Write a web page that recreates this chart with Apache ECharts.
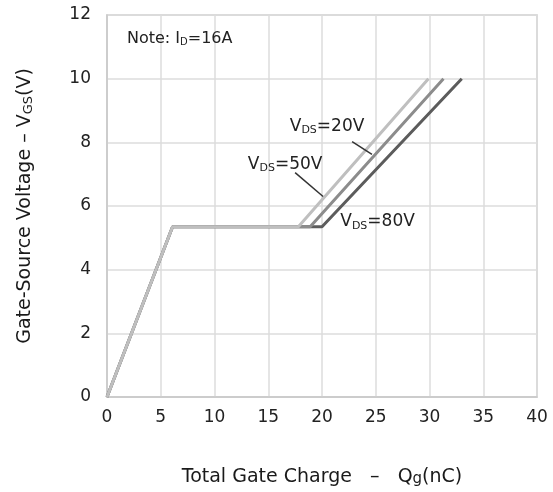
<!DOCTYPE html>
<html><head><meta charset="utf-8">
<script src="https://cdn.jsdelivr.net/npm/echarts@6/dist/echarts.min.js"></script>
<style>html,body{margin:0;padding:0;background:#fff}#c{width:553px;height:492px}</style>
</head><body><div id="c"></div>
<script>
var xTicks = [0,5,10,15,20,25,30,35,40];
var yTicks = [0,2,4,6,8,10,12];
var q20 = [0, 6.1, 17.8, 29.9];
var v20 = [0, 5.35, 5.35, 10];
var q50 = [0, 6.1, 18.9, 31.3];
var v50 = [0, 5.35, 5.35, 10];
var q80 = [0, 6.1, 20.0, 33.0];
var v80 = [0, 5.35, 5.35, 10];
var seriesNames = ['VDS=80V','VDS=50V','VDS=20V'];
var seriesColors = ['#5c5c5c','#8c8c8c','#bfbfbf'];

function pairs(xs, ys){ return xs.map(function(x,i){return [x, ys[i]];}); }
var font = '"DejaVu Sans", sans-serif';
var chart = echarts.init(document.getElementById('c'));
var sdata = [pairs(q80,v80), pairs(q50,v50), pairs(q20,v20)];
chart.setOption({
  animation:false,
  grid:{left:107, top:15, right:16, bottom:94, show:true, borderColor:'#c8c8c8', borderWidth:1.5},
  xAxis:{type:'value', min:0, max:40, interval:5,
    name:'Total Gate Charge   \u2013   Q{s|g}(nC)', nameLocation:'middle', nameGap:70,
    nameTextStyle:{fontFamily:font, fontSize:19, color:'#1a1a1a', rich:{s:{fontSize:15, fontFamily:font, color:'#1a1a1a', padding:[5,0,0,0]}}},
    axisLine:{show:true, lineStyle:{color:'#c8c8c8', width:1.5}}, axisTick:{show:false},
    axisLabel:{fontFamily:font, fontSize:17, color:'#222', margin:12},
    splitLine:{show:true, lineStyle:{color:'#dcdcdc', width:1.5}}},
  yAxis:{type:'value', min:0, max:12, interval:2,
    name:'Gate-Source Voltage \u2013 V{s|GS}(V)', nameLocation:'middle', nameGap:72,
    nameTextStyle:{fontFamily:font, fontSize:19, color:'#1a1a1a', rich:{s:{fontSize:13, fontFamily:font, color:'#1a1a1a', padding:[6,0,0,0]}}},
    axisLine:{show:true, lineStyle:{color:'#c8c8c8', width:1.5}}, axisTick:{show:false},
    axisLabel:{fontFamily:font, fontSize:17, color:'#222', margin:16},
    splitLine:{show:true, lineStyle:{color:'#dcdcdc', width:1.5}}},
  series: sdata.map(function(d,i){
    return {type:'line', name:seriesNames[i], data:d, symbol:'none',
      lineStyle:{color:seriesColors[i], width:3}, z:2+i};
  })
});

function px(x,y){ return chart.convertToPixel({gridIndex:0},[x,y]); }
function label(x,y,sub,rest){
  var p = px(x,y);
  return {type:'text', x:p[0], y:p[1], z:10, style:{
    text:'{a|V}{s|DS}{a|'+rest+'}', verticalAlign:'middle',
    rich:{a:{fontFamily:font, fontSize:17, fill:'#222', color:'#222'},
          s:{fontFamily:font, fontSize:11, fill:'#222', color:'#222', padding:[8,0,0,0]}}}};
}
function leader(x1,y1,x2,y2){
  var a=px(x1,y1), b=px(x2,y2);
  return {type:'line', z:10, shape:{x1:a[0],y1:a[1],x2:b[0],y2:b[1]}, style:{stroke:'#333', lineWidth:1.5}};
}
var n = px(1.86, 11.25);
chart.setOption({graphic:[
  {type:'text', x:n[0], y:n[1], z:10, style:{text:'{a|Note: I}{s|D}{a|=16A}', verticalAlign:'middle',
    rich:{a:{fontFamily:font, fontSize:16, fill:'#222', color:'#222'}, s:{fontFamily:font, fontSize:10, fill:'#222', color:'#222', padding:[7,0,0,0]}}}},
  label(17.0, 8.5, 'DS', '=20V'),
  label(13.1, 7.3, 'DS', '=50V'),
  label(21.7, 5.5, 'DS', '=80V'),
  leader(22.8, 8.02, 24.65, 7.62),
  leader(17.5, 7.05, 20.1, 6.3)
]});
</script></body></html>
